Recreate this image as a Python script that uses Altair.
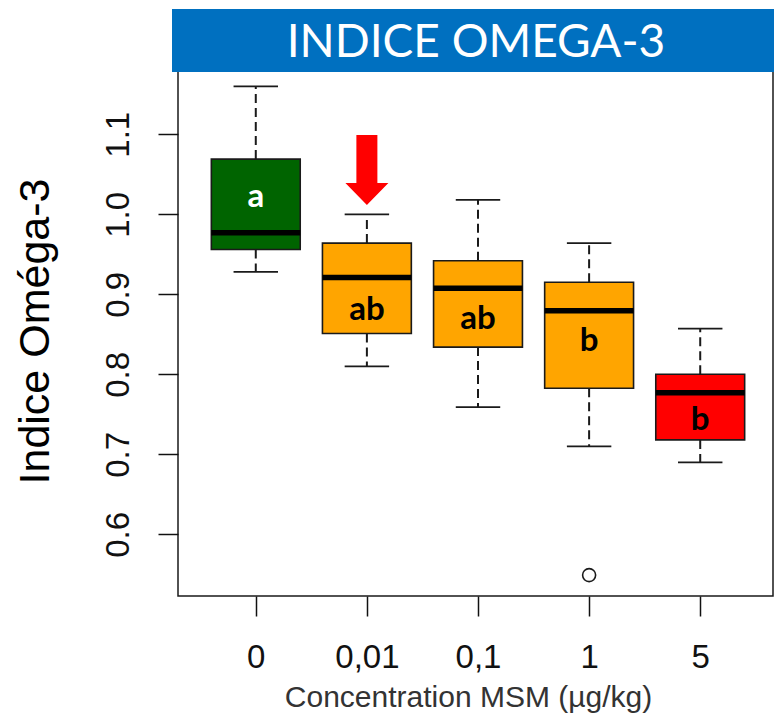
import json
import altair as alt
import pandas as pd

# ---- data ----
groups = ["0", "0,01", "0,1", "1", "5"]
positions = [1, 2, 3, 4, 5]
whisker_low = [0.928, 0.810, 0.759, 0.710, 0.690]
q1 = [0.956, 0.851, 0.834, 0.7825, 0.718]
median = [0.977, 0.921, 0.9075, 0.8795, 0.777]
q3 = [1.069, 0.964, 0.942, 0.915, 0.800]
whisker_high = [1.160, 1.000, 1.018, 0.964, 0.857]
box_colors = ["#006400", "#FFA500", "#FFA500", "#FFA500", "#FF0000"]
letters = ["a", "ab", "ab", "b", "b"]
letter_y = [1.0095, 0.868, 0.857, 0.829, 0.731]
letter_colors = ["#FFFFFF", "#000000", "#000000", "#000000", "#000000"]
outlier_pos = [4]
outlier_val = [0.549]
arrow_pos = [2]
arrow_val = [1.0554]
y_ticks = [0.6, 0.7, 0.8, 0.9, 1.0, 1.1]
title_text = "INDICE OMEGA-3"
y_title = "Indice Oméga-3"
x_title = "Concentration MSM (µg/kg)"

df = pd.DataFrame({
    "pos": positions, "group": groups, "lo": whisker_low, "q1": q1,
    "med": median, "q3": q3, "hi": whisker_high, "fill": box_colors,
    "letter": letters, "ly": letter_y, "lcolor": letter_colors,
})
out_df = pd.DataFrame({"pos": outlier_pos, "val": outlier_val})
arrow_df = pd.DataFrame({"pos": arrow_pos, "val": arrow_val})

xs = alt.Scale(domain=[0.3, 5.655], nice=False, zero=False)
ys = alt.Scale(domain=[0.5229, 1.1841], nice=False, zero=False)

x_axis = alt.Axis(
    values=positions,
    labelExpr=f"{json.dumps(groups)}[round(datum.value) - 1]",
    title=x_title, domain=False, grid=False, tickSize=20, tickWidth=1.5,
    tickColor="#111", labelFont="Liberation Sans", labelFontSize=33,
    labelColor="#111", labelBaseline="alphabetic", labelPadding=51,
    labelFlush=False, labelOverlap=False,
    titleFont="Liberation Sans", titleFontSize=30, titleFontWeight="normal",
    titleColor="#333", titleX=290, titleY=110, titleAlign="center",
    titleBaseline="alphabetic",
)
y_axis = alt.Axis(
    values=y_ticks, format=".1f", title=y_title, domain=False, grid=False,
    tickSize=20, tickWidth=1.5, tickColor="#111",
    labelFont="Liberation Sans", labelFontSize=33, labelColor="#111",
    labelAngle=270, labelAlign="center", labelBaseline="bottom",
    labelPadding=23, labelFlush=False, labelOverlap=False,
    titleFont="Liberation Sans", titleFontSize=43, titleFontWeight="normal",
    titleColor="#000", titleAngle=270, titleX=-130, titleY=264,
    titleAlign="center", titleBaseline="alphabetic",
)


def X(field):
    return alt.X(field, scale=xs, axis=x_axis, title=x_title)


def Y(field):
    return alt.Y(field, scale=ys, axis=y_axis, title=y_title)


base = alt.Chart(df).transform_calculate(
    x_lo="datum.pos - 0.4", x_hi="datum.pos + 0.4",
    c_lo="datum.pos - 0.2", c_hi="datum.pos + 0.2",
)

boxes = base.mark_rect(stroke="#1a1a1a", strokeWidth=1.6).encode(
    x=X("x_lo:Q"), x2="x_hi:Q",
    y=Y("q1:Q"), y2="q3:Q",
    fill=alt.Fill("fill:N", scale=None),
)
whisk_up = base.mark_rule(color="#1a1a1a", strokeWidth=2, strokeDash=[9, 5]).encode(
    x=X("pos:Q"), y=Y("q3:Q"), y2="hi:Q",
)
whisk_dn = base.mark_rule(color="#1a1a1a", strokeWidth=2, strokeDash=[9, 5]).encode(
    x=X("pos:Q"), y=Y("q1:Q"), y2="lo:Q",
)
cap_up = base.mark_rule(color="#1a1a1a", strokeWidth=1.8).encode(
    x=X("c_lo:Q"), x2="c_hi:Q", y=Y("hi:Q"),
)
cap_dn = base.mark_rule(color="#1a1a1a", strokeWidth=1.8).encode(
    x=X("c_lo:Q"), x2="c_hi:Q", y=Y("lo:Q"),
)
medians = base.mark_rule(color="#000", strokeWidth=5.5).encode(
    x=X("x_lo:Q"), x2="x_hi:Q", y=Y("med:Q"),
)
outliers = alt.Chart(out_df).mark_point(
    shape="circle", size=170, filled=False, color="#1a1a1a", strokeWidth=1.6, opacity=1
).encode(
    x=X("pos:Q"), y=Y("val:Q"),
)
labels = base.mark_text(
    font="Lato", fontSize=33, fontWeight="bold", align="center", baseline="alphabetic"
).encode(
    x=X("pos:Q"), y=Y("ly:Q"),
    text="letter:N",
    color=alt.Color("lcolor:N", scale=None),
)
arrow = alt.Chart(arrow_df).mark_point(
    shape="M -0.3 -1 L 0.3 -1 L 0.3 0.371 L 0.614 0.371 L 0 1 L -0.614 0.371 L -0.3 0.371 Z",
    size=4900, filled=True, color="#FF0000", strokeWidth=0, opacity=1,
).encode(
    x=X("pos:Q"), y=Y("val:Q"),
)

banner_data = alt.Data(values=[{"t": title_text}])
banner = alt.Chart(banner_data).mark_rect(color="#0070C0").encode(
    x=alt.value(-6), x2=alt.value(596), y=alt.value(-58), y2=alt.value(5),
)
banner_text = alt.Chart(banner_data).mark_text(
    font="Lato", fontSize=46, color="#FFFFFF", align="center", baseline="alphabetic"
).encode(
    x=alt.value(298), y=alt.value(-10), text="t:N",
)

chart = alt.layer(
    boxes, whisk_up, whisk_dn, cap_up, cap_dn, medians, outliers, labels,
    arrow, banner, banner_text,
).properties(
    width=595, height=529,
    padding={"left": 170, "top": 59, "right": 1, "bottom": 117},
    autosize=alt.AutoSizeParams(type="none"),
    background="white",
).configure_view(stroke="#1a1a1a", strokeWidth=1.5)

chart.save("out.html", embed_options={"renderer": "svg", "actions": False})
